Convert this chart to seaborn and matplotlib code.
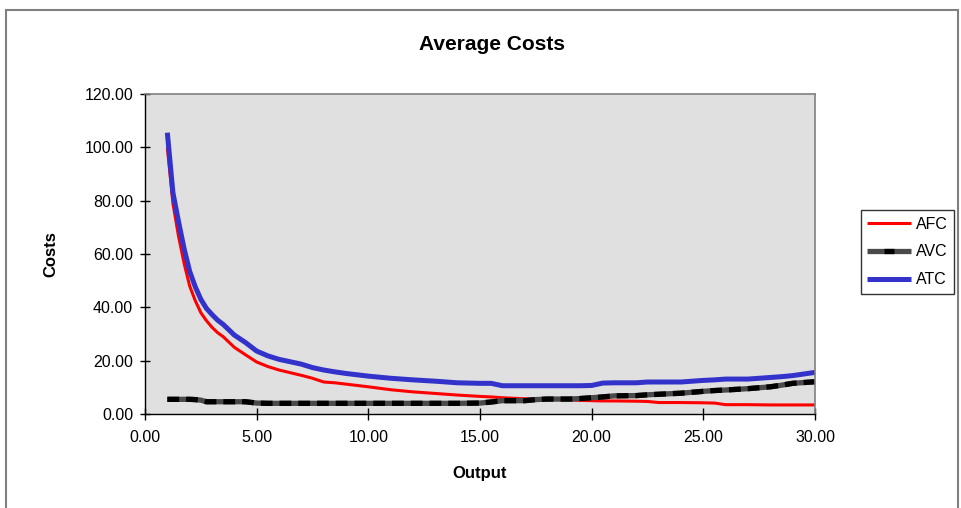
import matplotlib
matplotlib.use("Agg")
import matplotlib.pyplot as plt
import seaborn as sns
import pandas as pd
from matplotlib.lines import Line2D
from matplotlib.patches import Rectangle
from matplotlib.legend_handler import HandlerBase
from matplotlib.ticker import FormatStrFormatter

# ---- data ----
output = [1, 1.25, 1.5, 1.75, 2, 2.25, 2.5, 2.75, 3, 3.25, 3.5, 4, 4.5, 5, 5.5, 6, 7, 7.5, 8, 8.5,
          9, 10, 11, 12, 13, 14, 15, 15.5, 16, 17, 17.5, 18, 19, 19.5, 20, 20.5, 21, 22, 22.5,
          23, 24, 25, 25.5, 26, 27, 28, 28.5, 29, 30]
afc = [100, 79, 66.7, 56.5, 48, 42.5, 38, 35, 32.5, 30.5, 29, 25, 22.2, 19.5, 17.8, 16.5, 14.5, 13.4, 12.0, 11.7,
       11.2, 10.2, 9.1, 8.3, 7.7, 7.1, 6.6, 6.4, 6.1, 5.7, 5.6, 5.5, 5.3, 5.1, 5.0, 4.9, 4.9, 4.8, 4.7,
       4.3, 4.3, 4.2, 4.1, 3.5, 3.5, 3.4, 3.4, 3.4, 3.4]
avc = [5.5, 5.5, 5.5, 5.5, 5.5, 5.4, 5.2, 4.6, 4.6, 4.6, 4.6, 4.6, 4.6, 4.1, 4.0, 4.0, 4.0, 4.0, 4.0, 4.0,
       4.0, 4.0, 4.0, 4.0, 4.0, 4.0, 4.1, 4.5, 5.0, 5.0, 5.4, 5.6, 5.6, 5.8, 6.1, 6.4, 6.8, 6.9, 7.2,
       7.4, 7.8, 8.5, 8.8, 9.0, 9.5, 10.2, 10.8, 11.5, 12.1]
atc = [105.5, 83, 72.2, 62, 53.5, 47.7, 43, 39.6, 37.3, 35.2, 33.6, 29.6, 26.8, 23.6, 21.8, 20.5, 18.7, 17.4, 16.5, 15.8,
       15.2, 14.2, 13.4, 12.8, 12.3, 11.7, 11.5, 11.5, 10.6, 10.6, 10.6, 10.6, 10.6, 10.6, 10.7, 11.6, 11.7, 11.7, 12.0,
       12.0, 12.0, 12.6, 12.8, 13.1, 13.1, 13.7, 14.0, 14.4, 15.6]

series_names = ["AFC", "AVC", "ATC"]
title = "Average Costs"
x_label = "Output"
y_label = "Costs"

df = pd.DataFrame({"Output": output, "AFC": afc, "AVC": avc, "ATC": atc})

plt.rcParams["font.family"] = ["Liberation Sans", "DejaVu Sans"]
plt.rcParams["lines.scale_dashes"] = False

fig = plt.figure(figsize=(9.61, 5.08), dpi=100)
fig.patch.set_facecolor("white")
ax = fig.add_axes([145 / 961, 1 - 414 / 508, 670 / 961, 320 / 508])
ax.set_facecolor("#E0E0E0")

red = "#FF0000"
blue = "#3333CC"
grey = "#4A4A4A"

sns.lineplot(data=df, x="Output", y="AFC", ax=ax, color=red, linewidth=2.2, sort=False)
sns.lineplot(data=df, x="Output", y="AVC", ax=ax, color=grey, linewidth=3.8, sort=False)
sns.lineplot(data=df, x="Output", y="AVC", ax=ax, color="black", linewidth=3.8, sort=False,
             linestyle=(0, (8.5, 5)))
sns.lineplot(data=df, x="Output", y="ATC", ax=ax, color=blue, linewidth=3.6, sort=False)
for ln in ax.lines:
    ln.set_solid_capstyle("butt")
    ln.set_dash_capstyle("butt")
    ln.set_clip_on(False)

ax.set_xlim(0, 30)
ax.set_ylim(0, 120)
ax.set_xticks([0, 5, 10, 15, 20, 25, 30])
ax.set_yticks([0, 20, 40, 60, 80, 100, 120])
ax.xaxis.set_major_formatter(FormatStrFormatter("%.2f"))
ax.yaxis.set_major_formatter(FormatStrFormatter("%.2f"))
ax.tick_params(axis="x", direction="inout", length=9, width=1, labelsize=11.5, pad=7)
ax.tick_params(axis="y", direction="inout", length=7, width=1, labelsize=11.5, pad=5)
ax.grid(False)

for side in ["left", "bottom"]:
    ax.spines[side].set_color("black")
    ax.spines[side].set_linewidth(1.0)
for side in ["top", "right"]:
    ax.spines[side].set_color("#808080")
    ax.spines[side].set_linewidth(1.2)

ax.set_xlabel(x_label, fontsize=12, fontweight="bold")
ax.set_ylabel(y_label, fontsize=12, fontweight="bold")
ax.xaxis.set_label_coords(0.5, -(466 - 414) / 320)
ax.yaxis.set_label_coords(-(145 - 58) / 670, 0.5)

fig.text(492 / 961, 1 - 45 / 508, title, ha="center", va="center", fontsize=15, fontweight="bold")

# outer chart border
fig.patches.append(Rectangle((6 / 961, -0.05), (958 - 6) / 961, 1.05 - 10 / 508,
                             transform=fig.transFigure, fill=False, edgecolor="#808080",
                             linewidth=1.5))


class AVCHandler(HandlerBase):
    def create_artists(self, legend, orig_handle, xdescent, ydescent, width, height,
                       fontsize, trans):
        y = height / 2 - ydescent
        x0 = -xdescent
        base = Line2D([x0, x0 + width], [y, y], color=grey, linewidth=3.8,
                      solid_capstyle="butt", transform=trans)
        mid = Line2D([x0 + 0.38 * width, x0 + 0.6 * width], [y, y], color="black",
                     linewidth=3.8, solid_capstyle="butt", transform=trans)
        return [base, mid]


class AVCKey:
    pass


# legend
h_afc = Line2D([], [], color=red, linewidth=2.2, solid_capstyle="butt")
h_atc = Line2D([], [], color=blue, linewidth=3.6, solid_capstyle="butt")
leg = fig.legend([h_afc, AVCKey(), h_atc], series_names,
                 handler_map={AVCKey: AVCHandler()},
                 loc="center left", bbox_to_anchor=(861 / 961, 1 - 252 / 508),
                 fontsize=11.5, frameon=True, fancybox=False, edgecolor="black",
                 handlelength=2.75, handletextpad=0.3, labelspacing=0.8,
                 borderpad=0.4, borderaxespad=0)
leg.get_frame().set_linewidth(1.0)

fig.savefig("out.png", dpi=100, facecolor="white")
